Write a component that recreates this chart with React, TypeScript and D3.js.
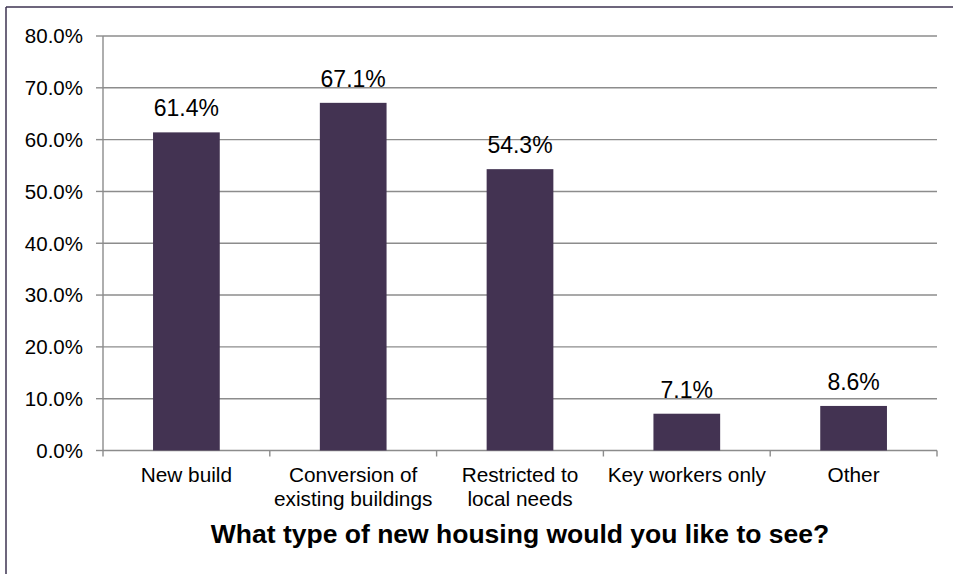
import React from "react";
import * as d3 from "d3";

const categories: string[][] = [
  ["New build"],
  ["Conversion of", "existing buildings"],
  ["Restricted to", "local needs"],
  ["Key workers only"],
  ["Other"],
];
const values: number[] = [61.4, 67.1, 54.3, 7.1, 8.6];
const yTicks: number[] = [0, 10, 20, 30, 40, 50, 60, 70, 80];
const title = "What type of new housing would you like to see?";

const W = 953;
const H = 574;
const left = 103;
const right = 937;
const top = 36;
const bottom = 450.5;
const font = "Arial, 'Liberation Sans', Helvetica, sans-serif";

export default function App() {
  const x = d3
    .scaleBand<number>()
    .domain(values.map((_, i) => i))
    .range([left, right])
    .paddingInner(0.6)
    .paddingOuter(0.3);
  const y = d3.scaleLinear().domain([0, 80]).range([bottom, top]);
  const step = (right - left) / categories.length;
  const gridColor = "#8c8c8c";

  return (
    <svg
      width={W}
      height={H}
      style={{ position: "absolute", left: 0, top: 0, background: "#fff" }}
      fontFamily={font}
    >
      <rect x={0} y={0} width={W} height={H} fill="#fff" />
      {/* outer border */}
      <line x1={6} y1={7} x2={W + 5} y2={7} stroke="#3d3350" strokeWidth={1.5} />
      <line x1={6} y1={7} x2={6} y2={H + 5} stroke="#3d3350" strokeWidth={1.5} />

      {/* gridlines & y ticks */}
      {yTicks.map((t) => (
        <g key={t}>
          {t > 0 && (
            <line x1={left} x2={right} y1={y(t)} y2={y(t)} stroke={gridColor} strokeWidth={1.4} />
          )}
          <line x1={left - 7} x2={left} y1={y(t)} y2={y(t)} stroke={gridColor} strokeWidth={1.4} />
          <text
            x={83}
            y={y(t)}
            dy="0.36em"
            textAnchor="end"
            fontSize={20.5}
            fill="#000"
          >
            {t.toFixed(1) + "%"}
          </text>
        </g>
      ))}

      {/* y axis */}
      <line x1={left} x2={left} y1={top} y2={bottom} stroke={gridColor} strokeWidth={1.4} />
      {/* x axis */}
      <line x1={left} x2={right} y1={bottom} y2={bottom} stroke={gridColor} strokeWidth={1.4} />
      {d3.range(categories.length + 1).map((i) => (
        <line
          key={i}
          x1={left + i * step}
          x2={left + i * step}
          y1={bottom}
          y2={bottom + 6}
          stroke={gridColor}
          strokeWidth={1.4}
        />
      ))}

      {/* bars */}
      {values.map((v, i) => (
        <g key={i}>
          <rect
            x={x(i)!}
            y={y(v)}
            width={x.bandwidth()}
            height={bottom - y(v)}
            fill="#433352"
          />
          <text
            x={x(i)! + x.bandwidth() / 2}
            y={y(v) - 16}
            textAnchor="middle"
            fontSize={23}
            fill="#000"
          >
            {v.toFixed(1) + "%"}
          </text>
        </g>
      ))}

      {/* category labels */}
      {categories.map((lines, i) => (
        <text
          key={i}
          x={x(i)! + x.bandwidth() / 2}
          y={482}
          textAnchor="middle"
          fontSize={20.8}
          fill="#000"
        >
          {lines.map((l, j) => (
            <tspan key={j} x={x(i)! + x.bandwidth() / 2} dy={j === 0 ? 0 : 23.5}>
              {l}
            </tspan>
          ))}
        </text>
      ))}

      {/* axis title */}
      <text
        x={(left + right) / 2}
        y={543}
        textAnchor="middle"
        fontSize={26.5}
        fontWeight="bold"
        fill="#000"
      >
        {title}
      </text>
    </svg>
  );
}
